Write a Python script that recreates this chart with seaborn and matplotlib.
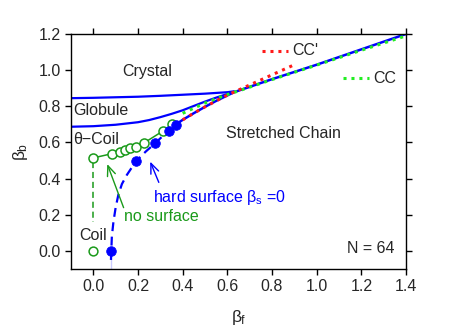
import numpy as np
import pandas as pd
import matplotlib
matplotlib.use("Agg")
import matplotlib.pyplot as plt
import seaborn as sns

# phase boundaries
crystal_bf = [-0.1, 0.0, 0.1, 0.2, 0.3, 0.4, 0.5, 0.6, 0.63]
crystal_bb = [0.845, 0.847, 0.850, 0.853, 0.858, 0.864, 0.870, 0.878, 0.883]

globule_bf = [-0.1, 0.0, 0.1, 0.2, 0.25, 0.3, 0.35, 0.4, 0.45, 0.5, 0.55, 0.6, 0.63]
globule_bb = [0.687, 0.690, 0.698, 0.712, 0.724, 0.740, 0.758, 0.778, 0.802, 0.826, 0.848, 0.868, 0.880]

stretch_bf = [0.37, 0.40, 0.45, 0.5, 0.55, 0.6, 0.63, 0.8, 1.0, 1.2, 1.4]
stretch_bb = [0.700, 0.725, 0.762, 0.797, 0.830, 0.860, 0.878, 0.950, 1.030, 1.115, 1.200]

cc_bf = [0.40, 0.45, 0.5, 0.55, 0.6, 0.65, 0.8, 1.0, 1.2, 1.4]
cc_bb = [0.761, 0.790, 0.818, 0.842, 0.865, 0.885, 0.948, 1.028, 1.110, 1.190]

ccp_bf = [0.40, 0.45, 0.5, 0.55, 0.6, 0.7, 0.8, 0.9]
ccp_bb = [0.725, 0.762, 0.797, 0.830, 0.862, 0.918, 0.974, 1.030]

# no surface (open circles)
nosurf_bf = [0.0, 0.0, 0.0, 0.084, 0.118, 0.143, 0.166, 0.192, 0.225, 0.314, 0.352]
nosurf_bb = [0.500, 0.513, 0.531, 0.538, 0.546, 0.559, 0.568, 0.577, 0.596, 0.665, 0.700]
coil_bf = [0.0]
coil_bb = [0.0]

# hard surface (filled circles)
hard_bf = [0.079, 0.192, 0.277, 0.337, 0.371]
hard_bb = [0.0, 0.498, 0.596, 0.666, 0.697]
hard_curve_bf = [0.079, 0.079, 0.083, 0.090, 0.100, 0.112, 0.128, 0.150, 0.192, 0.235, 0.277, 0.337, 0.371]
hard_curve_bb = [-0.1, 0.0, 0.08, 0.16, 0.24, 0.31, 0.37, 0.42, 0.498, 0.55, 0.596, 0.666, 0.697]

xticks = [0.0, 0.2, 0.4, 0.6, 0.8, 1.0, 1.2, 1.4]
yticks = [0.0, 0.2, 0.4, 0.6, 0.8, 1.0, 1.2]

sns.set_theme(style="ticks")
plt.rcParams['font.family'] = ['Liberation Sans', 'DejaVu Sans']
plt.rcParams['mathtext.fontset'] = 'custom'
plt.rcParams['mathtext.rm'] = 'Liberation Sans'
plt.rcParams['mathtext.it'] = 'Liberation Sans'

BLUE = '#0000ff'
GREEN = '#1a9a1a'
LIME = '#22ee22'
RED = '#ff1a1a'
fs = 11.5

fig = plt.figure(figsize=(4.71, 3.36), dpi=100)
ax = fig.add_axes([0.1507, 0.1994, 0.7113, 0.6994])

sns.lineplot(x=crystal_bf, y=crystal_bb, ax=ax, color=BLUE, lw=1.6, sort=False)
sns.lineplot(x=globule_bf, y=globule_bb, ax=ax, color=BLUE, lw=1.6, sort=False)
sns.lineplot(x=stretch_bf, y=stretch_bb, ax=ax, color=BLUE, lw=1.8, sort=False)
sns.lineplot(x=cc_bf, y=cc_bb, ax=ax, color=LIME, lw=2.2, ls=(0, (1, 1.6)), sort=False)
sns.lineplot(x=ccp_bf, y=ccp_bb, ax=ax, color=RED, lw=2.2, ls=(0, (1, 1.6)), sort=False)

# hard surface dashed curve + points
sns.lineplot(x=hard_curve_bf, y=hard_curve_bb, ax=ax, color=BLUE, lw=1.6,
             ls=(0, (4, 2.5)), sort=False)
sns.scatterplot(x=hard_bf, y=hard_bb, ax=ax, color=BLUE, s=48, edgecolor=BLUE, zorder=5)

# no surface
ax.plot([0.0, 0.0], [0.49, 0.16], color=GREEN, lw=1.1, ls=(0, (4, 2.5)))
sns.lineplot(x=nosurf_bf, y=nosurf_bb, ax=ax, color=GREEN, lw=1.1, sort=False,
             marker='o', markersize=6.5, markerfacecolor='white',
             markeredgecolor=GREEN, markeredgewidth=1.1, zorder=4)
sns.scatterplot(x=coil_bf, y=coil_bb, ax=ax, s=40, facecolor='white',
                edgecolor=GREEN, linewidth=1.1, zorder=4)

# labels
ax.text(0.24, 0.99, 'Crystal', fontsize=fs, ha='center', va='center')
ax.text(-0.09, 0.775, 'Globule', fontsize=fs, ha='left', va='center')
ax.text(-0.09, 0.615, '\u03b8\u2212Coil', fontsize=fs, ha='left', va='center')
ax.text(0.0, 0.085, 'Coil', fontsize=fs, ha='center', va='center')
ax.text(0.595, 0.65, 'Stretched Chain', fontsize=fs, ha='left', va='center')
ax.text(1.347, 0.015, 'N = 64', fontsize=fs, ha='right', va='center')

ax.text(0.138, 0.19, 'no surface', fontsize=fs, color=GREEN, ha='left', va='center')
ax.annotate('', xy=(0.058, 0.495), xytext=(0.14, 0.225),
            arrowprops=dict(arrowstyle='->,head_length=0.6,head_width=0.25',
                            color=GREEN, lw=1.0))
ax.text(0.265, 0.295, 'hard surface $\\beta_s$ =0', fontsize=fs, color=BLUE,
        ha='left', va='center')
ax.annotate('', xy=(0.25, 0.508), xytext=(0.298, 0.365),
            arrowprops=dict(arrowstyle='->,head_length=0.6,head_width=0.25',
                            color=BLUE, lw=1.0))

# legend-like samples
sns.lineplot(x=[0.755, 0.87], y=[1.108, 1.108], ax=ax, color=RED, lw=2.2, ls=(0, (1, 1.6)))
ax.text(0.89, 1.108, "CC'", fontsize=fs, ha='left', va='center')
sns.lineplot(x=[1.117, 1.233], y=[0.955, 0.955], ax=ax, color=LIME, lw=2.2, ls=(0, (1, 1.6)))
ax.text(1.255, 0.955, 'CC', fontsize=fs, ha='left', va='center')

ax.set_xlim(-0.1, 1.4)
ax.set_ylim(-0.1, 1.2)
ax.set_xticks(xticks)
ax.set_yticks(yticks)
ax.set_xticklabels([f'{v:.1f}' for v in xticks], fontsize=fs)
ax.set_yticklabels([f'{v:.1f}' for v in yticks], fontsize=fs)
ax.tick_params(direction='out', length=4, width=1, top=True, right=True,
               labeltop=False, labelright=False, color='black')
for sp in ax.spines.values():
    sp.set_visible(True)
    sp.set_color('black')
    sp.set_linewidth(1.0)
ax.set_xlabel('$\\beta_f$', fontsize=fs + 1, labelpad=10)
ax.set_ylabel('$\\beta_b$', fontsize=fs + 1, labelpad=6)

fig.savefig('out.png', dpi=100)
